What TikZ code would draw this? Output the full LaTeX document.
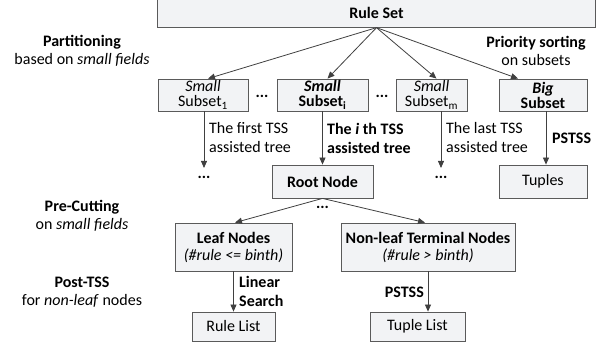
\documentclass[tikz,border=0pt]{standalone}
\usepackage{fontspec}
\setmainfont{Carlito}
\usetikzlibrary{arrows.meta,calc,shadows}
\definecolor{boxfill}{HTML}{F2F3F5}
\definecolor{boxdraw}{HTML}{5A5A5A}
\definecolor{arr}{HTML}{404040}
\begin{document}
\begin{tikzpicture}[x=1pt,y=-1pt,
  box/.style={draw=boxdraw, fill=boxfill, line width=0.8pt, align=center, inner sep=0pt,
    drop shadow={shadow xshift=0.9pt, shadow yshift=-0.9pt, fill=black!55, opacity=1},
    font=\fontsize{16}{15}\selectfont},
  box2/.style={box, font=\fontsize{16}{17}\selectfont},
  lbl/.style={align=left, inner sep=0pt, font=\fontsize{16}{19}\selectfont},
  side/.style={align=center, inner sep=0pt, font=\fontsize{16}{18.5}\selectfont},
  dots/.style={inner sep=0pt, font=\fontsize{16}{16}\selectfont\bfseries},
  arrow/.style={-{Triangle[length=7pt,width=6pt]}, draw=arr, line width=0.8pt}]
\useasboundingbox (0,0) rectangle (606,347);
% boxes
\node[box, minimum width=438, minimum height=28] (rs) at (376.5,13.25) {\textbf{Rule Set}};
\node[box, minimum width=90, minimum height=32] (s1) at (203,95) {\textit{Small}\\Subset\textsubscript{1}};
\node[box, minimum width=91, minimum height=32] (si) at (322.5,95) {\textbf{\textit{Small}}\\\textbf{Subset\textsubscript{i}}};
\node[box, minimum width=71, minimum height=32] (sm) at (431.5,95) {\textit{Small}\\Subset\textsubscript{m}};
\node[box, minimum width=88, minimum height=32] (big) at (543,95) {\textbf{\textit{Big}}\\\textbf{Subset}};
\node[box, minimum width=101, minimum height=33] (root) at (322.5,181.5) {\textbf{Root Node}};
\node[box, minimum width=88, minimum height=33] (tup) at (543,181.5) {Tuples};
\node[box2, minimum width=117, minimum height=48] (leaf) at (233.5,247) {\textbf{Leaf Nodes}\\\textit{(\#rule <= binth)}};
\node[box2, minimum width=174, minimum height=48] (nonleaf) at (428,247) {\textbf{Non-leaf Terminal Nodes}\\\textit{(\#rule > binth)}};
\node[box, minimum width=83, minimum height=29] (rl) at (233.5,326.5) {Rule List};
\node[box, minimum width=95, minimum height=29] (tl) at (417.5,326.5) {Tuple List};
% dots
\node[dots] (d12) at (262,96) {...};
\node[dots] (d23) at (382,96) {...};
\coordinate (e1) at (204,168);
\coordinate (e3) at (441,168);
\node[dots] (d1) at (204,177) {...};
\node[dots] (d3) at (441,177) {...};
\node[dots] (dr) at (322.5,207) {...};
% arrows
\draw[arrow] (rs.south) -- ([xshift=5pt]s1.north);
\draw[arrow] (rs.south) -- ([xshift=5pt]si.north);
\draw[arrow] (rs.south) -- ([xshift=5pt]sm.north);
\draw[arrow] (rs.south) -- ([xshift=-25pt]big.north);
\draw[arrow] ([xshift=1pt]s1.south) -- (e1);
\draw[arrow] (si.south) -- (root.north);
\draw[arrow] ([xshift=9.5pt]sm.south) -- (e3);
\draw[arrow] ([xshift=3pt]big.south) -- ([xshift=3pt]tup.north);
\draw[arrow] (root.south) -- ([xshift=1.5pt]leaf.north);
\draw[arrow] (root.south) -- ([xshift=-3pt]nonleaf.north);
\draw[arrow] (leaf.south) -- (leaf.south |- rl.north);
\draw[arrow] (nonleaf.south) -- (nonleaf.south |- tl.north);
% edge labels
\node[lbl, anchor=west] (l1) at (209,138) {The first TSS\\assisted tree};
\node[lbl, anchor=west] (li) at (327,138) {\textbf{The \textit{i} th TSS}\\\textbf{assisted tree}};
\node[lbl, anchor=west] (lm) at (446,138) {The last TSS\\assisted tree};
\node[lbl, anchor=west] (lb) at (552,138) {\textbf{PSTSS}};
\node[lbl, anchor=west] (ll) at (239,291) {\textbf{Linear}\\\textbf{Search}};
\node[lbl, anchor=east] (ln) at (424,292) {\textbf{PSTSS}};
% side labels
\node[side] (p1) at (82,51) {\textbf{Partitioning}\\based on \textit{small fields}};
\node[side] (p2) at (536,51) {\textbf{Priority sorting}\\on subsets};
\node[side] (p3) at (82,216) {\textbf{Pre-Cutting}\\on \textit{small fields}};
\node[side] (p4) at (82,292) {\textbf{Post-TSS}\\for \textit{non-leaf} nodes};
\end{tikzpicture}
\end{document}
